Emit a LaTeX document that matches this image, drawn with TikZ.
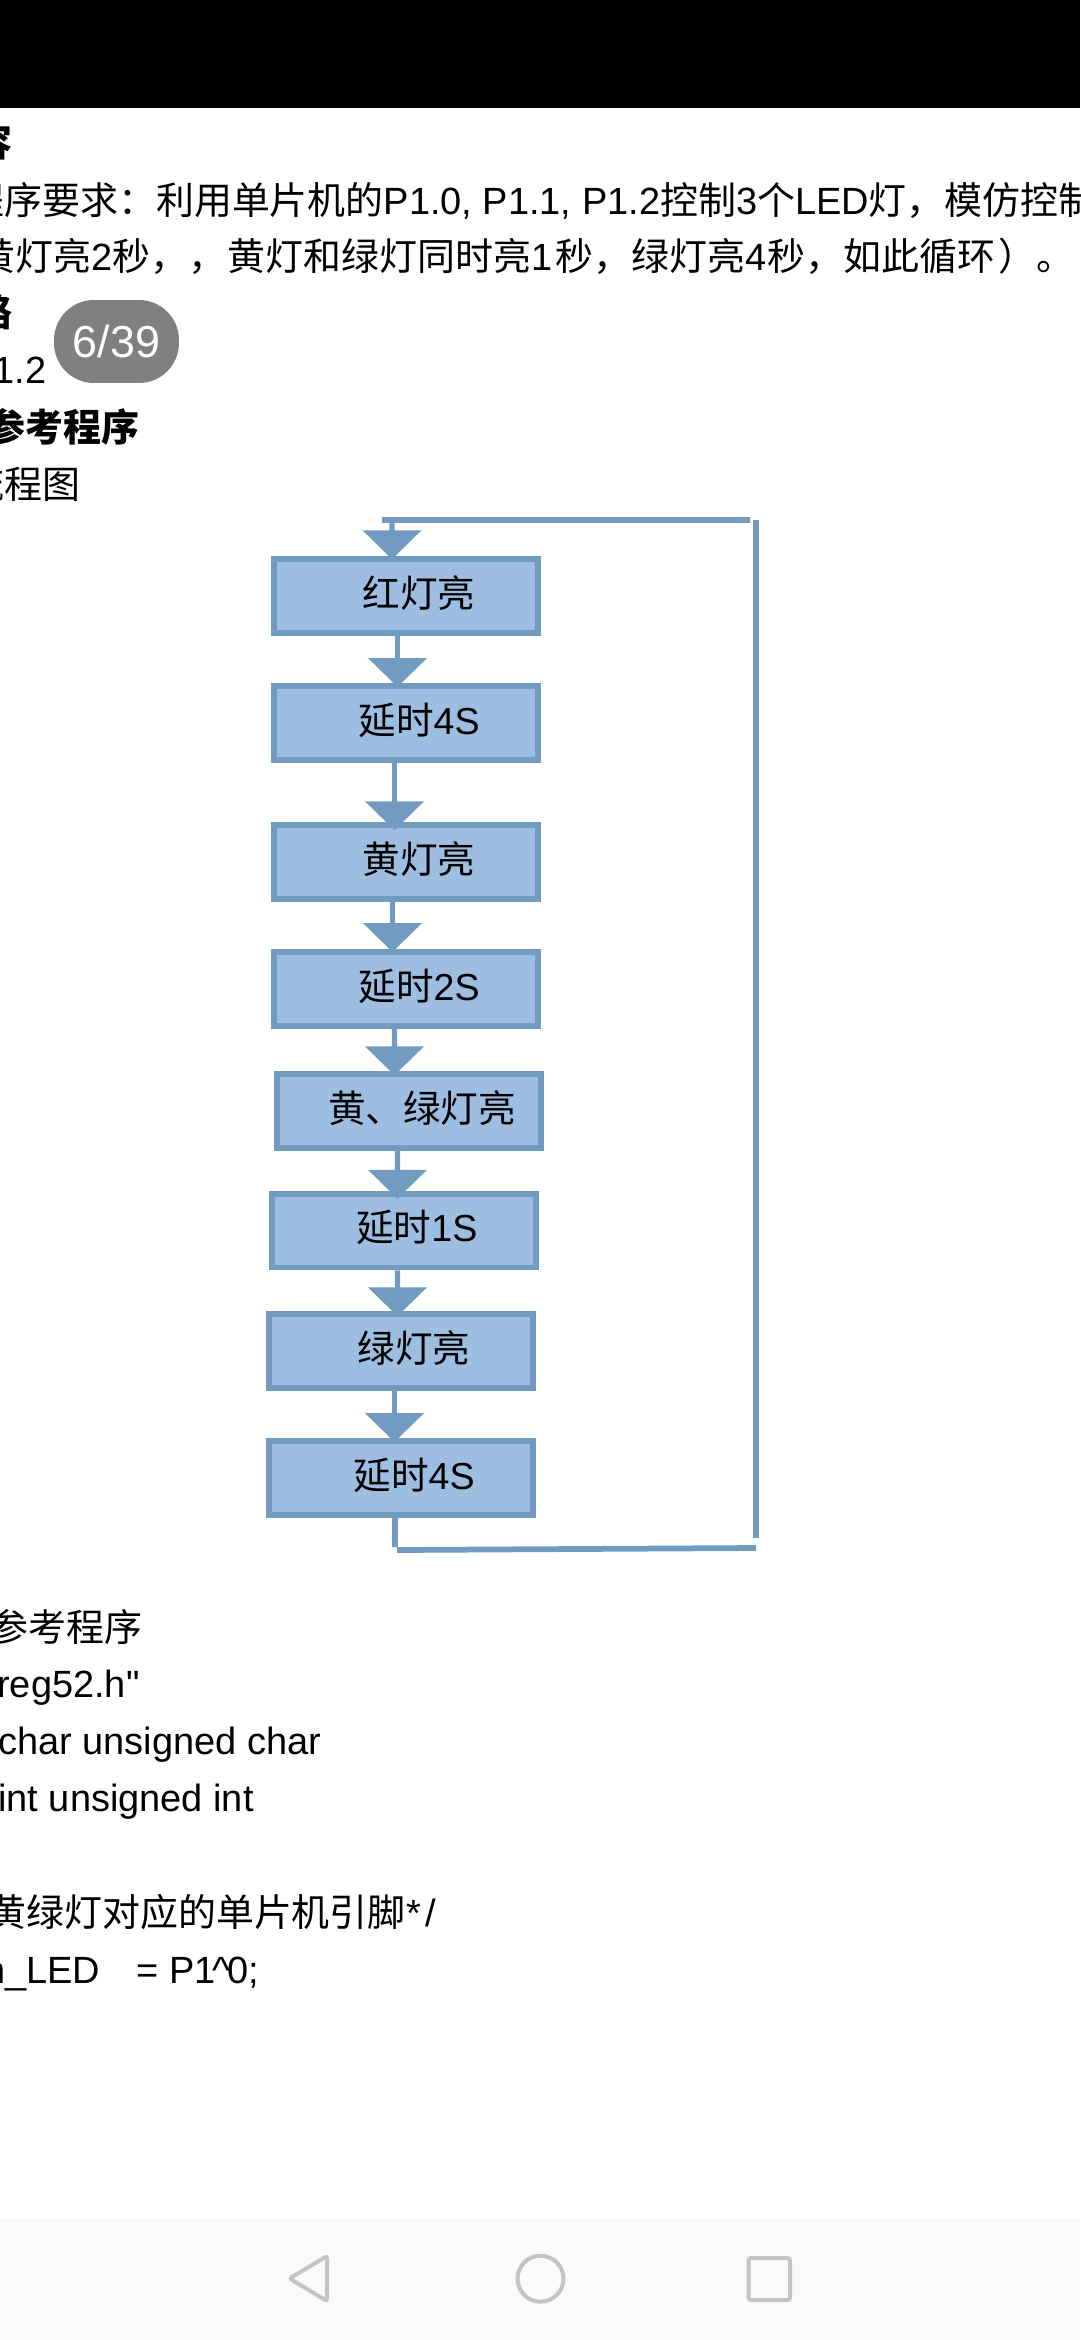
\documentclass[tikz,border=0pt]{standalone}
\usepackage{fontspec}
\usepackage{xcolor}
\usetikzlibrary{arrows.meta}
\setmainfont{Liberation Sans}
\newfontfamily\cjk{Noto Sans CJK SC}
\newfontfamily\rawfont{Liberation Sans}
\definecolor{flowfill}{RGB}{157,190,224}
\definecolor{flowline}{RGB}{114,155,193}
\definecolor{navfill}{RGB}{250,250,250}
\definecolor{navline}{RGB}{196,196,196}
\definecolor{pagerfill}{RGB}{128,128,128}

\begin{document}
\begin{tikzpicture}[x=0.02cm,y=-0.02cm]
        \tikzstyle{block} = [rectangle, draw=flowline, fill=flowfill, line width=0.115cm, minimum width=5.285cm, minimum height=1.475cm, inner sep=0pt, text height=0.6cm, text depth=0.15cm, font=\fontsize{21.4}{25}\selectfont, execute at begin node=\hspace{0.52cm}]
        \tikzstyle{link} = [draw=flowline, line width=0.105cm, -{Triangle[length=0.58cm,width=1.16cm]}]
        \tikzstyle{wire} = [draw=flowline, line width=0.115cm]
        \tikzstyle{para} = [anchor=base west, inner sep=0pt, font=\fontsize{21.6}{26}\selectfont]
        \tikzstyle{navicon} = [draw=navline, line width=0.08cm, rounded corners=0.05cm]

        \useasboundingbox (0,0) rectangle (1080,2340);
        \fill[black] (0,0) rectangle (1080,108);
        \fill[navfill] (0,2218) rectangle (1080,2340);

        \node[para] (title) at (-26,156) {\cjk\bfseries 容};
        \node[para] (taska) at (-34,214) {{\cjk 程序要求：利用单片机的}P1.0, P1.1, P1.2{\cjk 控制}3{\cjk 个}LED{\cjk 灯，模仿控制}};
        \node[para] (taskb) at (-23,270.5) {{\cjk 黄灯亮}2{\cjk 秒，，}\kern0.03cm{\cjk 黄灯和绿灯同时亮}1\kern0.06cm{\cjk 秒，绿灯亮}4\kern0.03cm{\cjk 秒，如此循环}\kern0.06cm{\cjk ）。}};
        \node[para] (idea) at (-26,326) {\cjk\bfseries 路};
        \node[para] (pin) at (-7,383) {1.2};
        \node[para] (refa) at (-13,441) {\cjk\bfseries 参考程序};
        \node[para] (chart) at (-34,498) {\cjk 流程图};
        \node[para] (refb) at (-10,1641.5) {\cjk 参考程序};
        \node[para] (incl) at (-3,1697) {reg52.h{\rawfont "}};
        \node[para] (defa) at (-2,1754) {char unsigned char};
        \node[para] (defb) at (-2,1811) {int unsigned int};
        \node[para] (note) at (-12,1926.5) {{\cjk 黄绿灯对应的单片机引脚}\kern0.02cm*\kern0.08cm/};
        \node[para] (sbit) at (-16,1983) {n\_LED\hspace{0.72cm}= P1\kern-0.05cm\textasciicircum\kern-0.06cm 0;};

        \node[rectangle, fill=pagerfill, text=white, rounded corners=0.8cm, minimum width=2.5cm, minimum height=1.66cm, inner sep=0pt, font=\fontsize{25.5}{30}\selectfont] (pager) at (116.5,341.5) {6/39};

        \node[block] (redon) at (406,596) {\cjk 红灯亮};
        \node[block] (delayfoura) at (406,722.75) {{\cjk 延时}4S};
        \node[block] (yellowon) at (406,862) {\cjk 黄灯亮};
        \node[block] (delaytwo) at (406,988.75) {{\cjk 延时}2S};
        \node[block] (bothon) at (409,1111) {\cjk 黄、绿灯亮};
        \node[block] (delayone) at (403.75,1230.5) {{\cjk 延时}1S};
        \node[block] (greenon) at (401,1351) {\cjk 绿灯亮};
        \node[block] (delayfourb) at (401,1477.75) {{\cjk 延时}4S};

        \coordinate (stubend) at (395,1547);
        \coordinate (lowleft) at (397,1550);
        \coordinate (lowright) at (756,1548);
        \coordinate (sidelow) at (756,1538);
        \coordinate (sidetop) at (756,520);
        \coordinate (topright) at (750,520);
        \coordinate (topleft) at (382,520);
        \coordinate (entry) at (392,520);

        \draw[link, shorten >=-0.06cm] (entry) -- ([xshift=-0.28cm]redon.north);
        \draw[link, shorten >=-0.08cm] ([xshift=-0.17cm]redon.south) -- ([xshift=-0.17cm]delayfoura.north);
        \draw[link, shorten >=-0.16cm] ([xshift=-0.23cm]delayfoura.south) -- ([xshift=-0.23cm]yellowon.north);
        \draw[link, shorten >=-0.06cm] ([xshift=-0.27cm]yellowon.south) -- ([xshift=-0.27cm]delaytwo.north);
        \draw[link, shorten >=-0.08cm] ([xshift=-0.23cm]delaytwo.south) -- ([xshift=-0.29cm]bothon.north);
        \draw[link, shorten >=-0.16cm] ([xshift=-0.23cm]bothon.south) -- ([xshift=-0.125cm]delayone.north);
        \draw[link, shorten >=-0.1cm] ([xshift=-0.125cm]delayone.south) -- ([xshift=-0.07cm]greenon.north);
        \draw[link, shorten >=-0.08cm] ([xshift=-0.13cm]greenon.south) -- ([xshift=-0.13cm]delayfourb.north);

        \draw[wire] ([xshift=-0.12cm]delayfourb.south) -- (stubend);
        \draw[wire] (lowleft) -- (lowright);
        \draw[wire] (sidelow) -- (sidetop);
        \draw[wire] (topright) -- (topleft);

        \draw[navicon] (327,2256) -- (289.5,2278.5) -- (327,2301) -- cycle;
        \draw[navline, line width=0.08cm] (540.5,2278.7) circle (0.46cm);
        \draw[navicon] (748.5,2258) rectangle (790,2300);
      \end{tikzpicture}
\end{document}
